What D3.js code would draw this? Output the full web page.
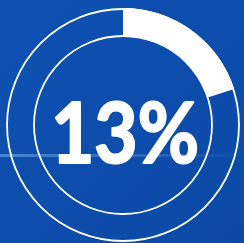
<!DOCTYPE html>
<html>
<head>
<meta charset="utf-8">
<script src="https://cdn.jsdelivr.net/npm/d3@7"></script>
<style>
  html, body { margin: 0; padding: 0; background: #0f4fae; }
  svg { display: block; }
</style>
</head>
<body>
<div id="chart"></div>
<script>
// values
const labels = ["13%"];
const shares = [0.2];

const width = 244;
const height = 243;
const cx = 123;
const cy = 125;
const outerR = 116;
const innerR = 89;

const svg = d3
  .select("#chart")
  .append("svg")
  .attr("width", width)
  .attr("height", height)
  .attr("viewBox", [0, 0, width, height]);

const defs = svg.append("defs");
const bg = defs
  .append("linearGradient")
  .attr("id", "bg")
  .attr("x1", 0)
  .attr("y1", 0)
  .attr("x2", 1)
  .attr("y2", 1);
bg.append("stop").attr("offset", 0).attr("stop-color", "#0e52b4");
bg.append("stop").attr("offset", 0.5).attr("stop-color", "#0d4dab");
bg.append("stop").attr("offset", 1).attr("stop-color", "#0c49a6");

const streak = defs
  .append("linearGradient")
  .attr("id", "streak")
  .attr("x1", 0)
  .attr("x2", 1);
streak.append("stop").attr("offset", 0).attr("stop-color", "#5f9be0").attr("stop-opacity", 0.7);
streak.append("stop").attr("offset", 0.6).attr("stop-color", "#5f9be0").attr("stop-opacity", 0.35);
streak.append("stop").attr("offset", 1).attr("stop-color", "#5f9be0").attr("stop-opacity", 0);

svg.append("rect").attr("width", width).attr("height", height).attr("fill", "url(#bg)");
svg
  .append("rect")
  .attr("x", 0)
  .attr("y", 154)
  .attr("width", width)
  .attr("height", 3)
  .attr("fill", "url(#streak)");

const g = svg.append("g").attr("transform", `translate(${cx},${cy})`);

g.append("circle")
  .attr("r", outerR)
  .attr("fill", "none")
  .attr("stroke", "#fff")
  .attr("stroke-width", 1.8);

g.append("circle")
  .attr("r", innerR)
  .attr("fill", "none")
  .attr("stroke", "#fff")
  .attr("stroke-width", 1.8);

const angle = d3.scaleLinear().domain([0, 1]).range([0, 2 * Math.PI]);
const arc = d3.arc().innerRadius(innerR).outerRadius(outerR + 0.9);

g.selectAll("path.share")
  .data(shares)
  .join("path")
  .attr("class", "share")
  .attr("fill", "#fff")
  .attr("d", (d) => arc({ startAngle: 0, endAngle: angle(d) }));

// label: cap height ~61px, spans x 50..200, baseline at y 163
const text = g
  .selectAll("text")
  .data(labels)
  .join("text")
  .attr("fill", "#fff")
  .attr("stroke", "#fff")
  .attr("stroke-width", 2.2)
  .attr("stroke-linejoin", "round")
  .attr("font-family", "Lato, 'Open Sans', sans-serif")
  .attr("font-weight", 700)
  .attr("font-size", 84)
  .attr("x", 0)
  .attr("y", 0)
  .text((d) => d);

const box = text.node().getBBox();
const sx = 148 / box.width;
text.attr(
  "transform",
  `translate(${51 - cx},${163 - cy}) scale(${sx},1) translate(${-box.x},0)`,
);
</script>
</body>
</html>
